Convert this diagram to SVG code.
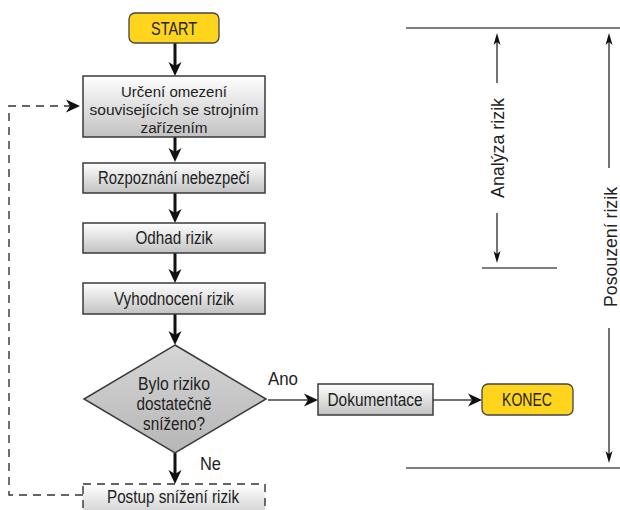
<svg xmlns="http://www.w3.org/2000/svg" width="620" height="510" viewBox="0 0 620 510">
<defs>
<linearGradient id="gBox" x1="0" y1="0" x2="0" y2="1">
<stop offset="0" stop-color="#ffffff"/>
<stop offset="1" stop-color="#c2c2c2"/>
</linearGradient>
<linearGradient id="gDia" x1="0" y1="0" x2="0" y2="1">
<stop offset="0" stop-color="#d6d6d6"/>
<stop offset="1" stop-color="#b6b6b6"/>
</linearGradient>
<marker id="ah" markerUnits="userSpaceOnUse" markerWidth="15" markerHeight="14" refX="4" refY="6.5" orient="auto" overflow="visible">
<path d="M0,0 L14,6.5 L0,13 L4,6.5 z" fill="#111"/>
</marker>
<marker id="an" markerUnits="userSpaceOnUse" markerWidth="13" markerHeight="7" refX="3" refY="3.5" orient="auto" overflow="visible">
<path d="M0,0 L12,3.5 L0,7 L3,3.5 z" fill="#111"/>
</marker>
</defs>
<style>
text{font-family:"Liberation Sans",Arial,sans-serif;fill:#222;font-size:17.5px}
.box{fill:url(#gBox);stroke:#3a3a3a;stroke-width:1.5}
.term{fill:#ffd41c;stroke:#444;stroke-width:1.3}
.thick{stroke:#111;stroke-width:3;fill:none}
.thin{stroke:#444;stroke-width:1.5;fill:none}
.dash{stroke:#333;stroke-width:1.4;fill:none;stroke-dasharray:8 6}
.rule{stroke:#555;stroke-width:1.6;fill:none}
.mid{text-anchor:middle}
.ml{font-size:15.5px}
</style>

<g id="connectors">
<line class="thick" x1="175" y1="43" x2="175" y2="66" marker-end="url(#ah)"/>
<line class="thick" x1="175" y1="137" x2="175" y2="152" marker-end="url(#ah)"/>
<line class="thick" x1="175" y1="193" x2="175" y2="213" marker-end="url(#ah)"/>
<line class="thick" x1="175" y1="253" x2="175" y2="273" marker-end="url(#ah)"/>
<line class="thick" x1="175" y1="314" x2="175" y2="335" marker-end="url(#ah)"/>
<line class="thick" x1="175" y1="453" x2="175" y2="474" marker-end="url(#ah)"/>
<line class="thin" x1="268" y1="400" x2="308" y2="400" marker-end="url(#ah)"/>
<line class="thin" x1="433" y1="400" x2="472" y2="400" marker-end="url(#ah)"/>
<path class="dash" d="M83,495 H9 V106 H70" marker-end="url(#ah)"/>
<text x="268" y="385" font-size="19" textLength="30" lengthAdjust="spacingAndGlyphs">Ano</text>
<text x="200" y="470" font-size="19" textLength="21" lengthAdjust="spacingAndGlyphs">Ne</text>
</g>

<g id="start">
<rect class="term" x="129" y="13" width="90" height="30" rx="6"/>
<text class="mid" x="174" y="35" font-size="18.5" textLength="46" lengthAdjust="spacingAndGlyphs">START</text>
</g>

<g id="urceni">
<rect class="box" x="83" y="76" width="182" height="61"/>
<text class="mid ml" x="174" y="97" textLength="106" lengthAdjust="spacingAndGlyphs">Určení omezení</text>
<text class="mid ml" x="174" y="115" textLength="169" lengthAdjust="spacingAndGlyphs">souvisejících se strojním</text>
<text class="mid ml" x="174" y="133" textLength="67" lengthAdjust="spacingAndGlyphs">zařízením</text>
</g>

<g id="rozpoznani">
<rect class="box" x="83" y="163" width="182" height="30"/>
<text class="mid" x="174" y="184" textLength="152" lengthAdjust="spacingAndGlyphs">Rozpoznání nebezpečí</text>
</g>

<g id="odhad">
<rect class="box" x="83" y="223" width="182" height="30"/>
<text class="mid" x="174" y="244" textLength="77" lengthAdjust="spacingAndGlyphs">Odhad rizik</text>
</g>

<g id="vyhodnoceni">
<rect class="box" x="83" y="283" width="182" height="31"/>
<text class="mid" x="174" y="305" textLength="120" lengthAdjust="spacingAndGlyphs">Vyhodnocení rizik</text>
</g>

<g id="rozhodnuti">
<polygon points="175,345 266,399 175,453 84,399" fill="url(#gDia)" stroke="#3a3a3a" stroke-width="1.5"/>
<text class="mid" x="174" y="390" font-size="16.5" textLength="72" lengthAdjust="spacingAndGlyphs">Bylo riziko</text>
<text class="mid" x="174" y="410" font-size="16.5" textLength="75" lengthAdjust="spacingAndGlyphs">dostatečně</text>
<text class="mid" x="174" y="430" font-size="16.5" textLength="62" lengthAdjust="spacingAndGlyphs">sníženo?</text>
</g>

<g id="postup">
<rect x="83" y="484" width="182" height="40" fill="url(#gBox)" stroke="#333" stroke-width="1.4" stroke-dasharray="8 6"/>
<text class="mid" x="173" y="503" textLength="132" lengthAdjust="spacingAndGlyphs">Postup snížení rizik</text>
</g>

<g id="dokumentace">
<rect class="box" x="318" y="384" width="115" height="31"/>
<text class="mid" x="375" y="406" textLength="95" lengthAdjust="spacingAndGlyphs">Dokumentace</text>
</g>

<g id="konec">
<rect class="term" x="482" y="384" width="91" height="31" rx="6"/>
<text class="mid" x="527" y="406" font-size="18.5" textLength="50" lengthAdjust="spacingAndGlyphs">KONEC</text>
</g>

<g id="rozsah">
<line class="rule" x1="406" y1="28" x2="620" y2="28"/>
<line class="rule" x1="482" y1="268" x2="557" y2="268"/>
<line class="rule" x1="406" y1="468" x2="620" y2="468"/>
<line class="thin" x1="497" y1="83" x2="497" y2="42" marker-end="url(#an)"/>
<line class="thin" x1="497" y1="213" x2="497" y2="254" marker-end="url(#an)"/>
<line class="thin" x1="609" y1="168" x2="609" y2="42" marker-end="url(#an)"/>
<line class="thin" x1="609" y1="328" x2="609" y2="454" marker-end="url(#an)"/>
<text class="mid" transform="translate(504,148) rotate(-90)" font-size="19" textLength="100" lengthAdjust="spacingAndGlyphs">Analýza rizik</text>
<text class="mid" transform="translate(617,247) rotate(-90)" font-size="19" textLength="120" lengthAdjust="spacingAndGlyphs">Posouzení rizik</text>
</g>
</svg>
